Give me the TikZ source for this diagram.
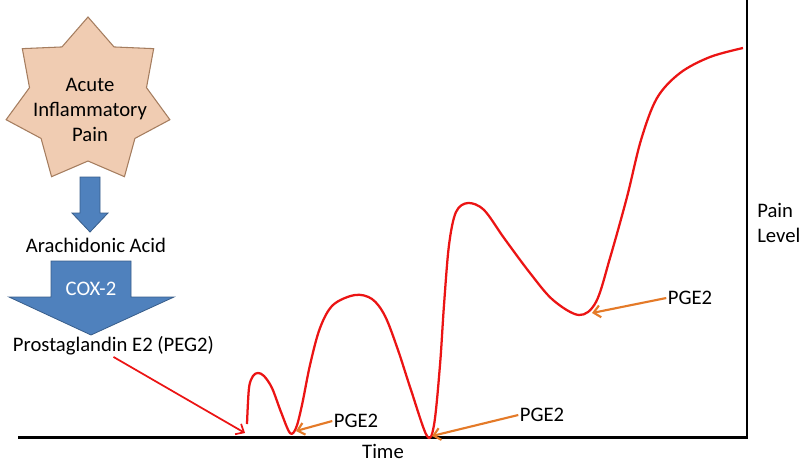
\documentclass[tikz,border=0pt]{standalone}
\usepackage{fontspec}
\setmainfont{Carlito}
\usetikzlibrary{shapes.geometric,arrows.meta,positioning}
\definecolor{starfill}{RGB}{240,204,178}
\definecolor{stardraw}{RGB}{165,125,95}
\definecolor{blockblue}{RGB}{79,129,189}
\definecolor{blockdraw}{RGB}{56,93,138}
\definecolor{pgeorange}{RGB}{228,122,40}
\definecolor{curvered}{RGB}{235,20,20}

\begin{document}
\begin{tikzpicture}[
    x=0.75pt,
    y=-0.75pt,
    txt/.style={
        font=\fontsize{15.5}{18.75}\selectfont,
        inner sep=1pt,
        align=center
    },
    painstar/.style={
        star,
        star points=7,
        star point ratio=1.4,
        minimum size=126pt,
        inner sep=0pt,
        fill=starfill,
        draw=stardraw,
        line width=0.8pt
    },
    blockarrow/.style={
        fill=blockblue,
        draw=blockdraw,
        line width=0.6pt
    },
    axis/.style={
        line width=2pt
    },
    pgearrow/.style={
        draw=pgeorange,
        line width=1.6pt,
        -{Straight Barb[length=5pt,width=9pt]}
    },
    redarrow/.style={
        draw=curvered,
        line width=1.3pt,
        -{Straight Barb[length=5pt,width=9pt]}
    }
]
\useasboundingbox (0,0) rectangle (800,462);

% Star
\node[painstar] (star) at (88,101) {};
\node[txt] (acute) at (90,110) {Acute\\Inflammatory\\Pain};

% Block arrows
\draw[blockarrow] (80,177) -- (100,177) -- (100,213) -- (108,213) -- (90,232) -- (72,213) -- (80,213) -- cycle;
\node[txt] (arach) at (96,245) {Arachidonic Acid};
\draw[blockarrow] (51,261) -- (131,261) -- (131,297) -- (174,297) -- (91,335) -- (9,297) -- (51,297) -- cycle;
\node[txt, text=white] (cox) at (91,289) {COX-2};
\node[txt] (pge) at (113.5,346) {Prostaglandin E2 (PEG2)};

% Axes
\coordinate (origin) at (747,437.5);
\draw[axis] (18,437.5) -- (origin) -- (747,0);
\node[txt] (time) at (383,451) {Time};
\node[txt, anchor=west, align=left, inner sep=0pt] (pain) at (757,223) {Pain\\Level};

% Pain curve
\draw[curvered, line width=1.7pt, line join=round] plot[smooth, tension=0.55] coordinates {
    (247,424) (249,388) (253,376) (258,373) (264,376) (272,388) (281,412) (290,433)
    (296,428) (302,405) (310,365) (320,328) (333,305) (355,295) (372,299) (385,316)
    (398,350) (411,390) (427,436) (434,425) (440,365) (444,305) (449,245) (456,212)
    (468,203) (484,210) (504,238) (530,273) (553,300) (579,315) (596,302) (610,258)
    (627,197) (641,140) (657,98) (680,73) (710,57) (743,48)};
\coordinate (start) at (245,433);
\coordinate (min1) at (296,431);
\coordinate (min2) at (432,436);
\coordinate (min3) at (592,313);

% Labels
\node[txt] (pge1) at (356,421) {PGE2};
\node[txt] (pge2) at (542,415) {PGE2};
\node[txt] (pge3) at (690,298) {PGE2};

% Arrows
\draw[redarrow] (pge.south) -- (start);
\draw[pgearrow] (pge1.west) -- (min1);
\draw[pgearrow] (pge2.west) -- (min2);
\draw[pgearrow] (pge3.west) -- (min3);

\end{tikzpicture}
\end{document}
